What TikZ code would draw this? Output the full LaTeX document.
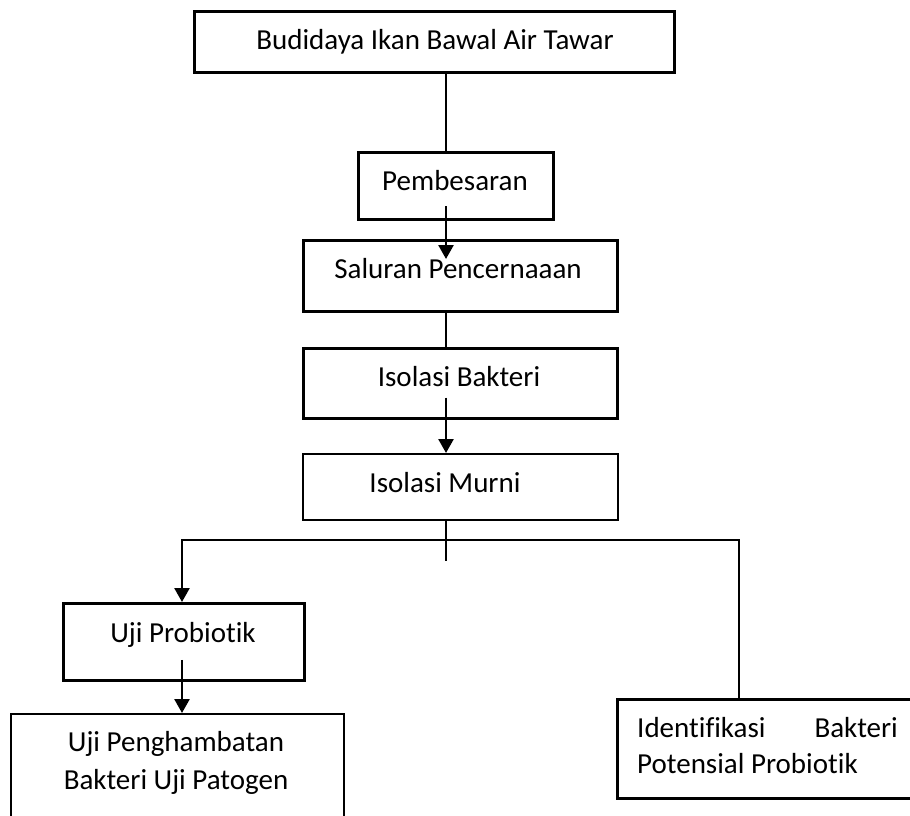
\documentclass[tikz,border=0pt]{standalone}
\usepackage{fontspec}
\setmainfont{Carlito}[Ligatures={NoCommon}]
\usetikzlibrary{arrows.meta,calc}
\begin{document}
\begin{tikzpicture}[x=1pt,y=-1pt,
  box/.style={draw,rectangle,inner sep=0pt,anchor=north west},
  lbl/.style={font=\fontsize{29}{34}\selectfont,inner sep=0pt},
  conn/.style={line width=1.3pt},
  arr/.style={line width=2.6pt,-{Triangle[width=15pt,length=14pt]}}]
\clip (0,0) rectangle (910,816);
\fill[white] (0,0) rectangle (910,816);
% boxes
\node[box,line width=3pt,minimum width=480pt,minimum height=61pt] (bud) at (193,10) {};
\node[box,line width=3pt,minimum width=195pt,minimum height=67pt] (pemb) at (357,151) {};
\node[box,line width=2.7pt,minimum width=314pt,minimum height=71pt] (sal) at (302,239) {};
\node[box,line width=2.7pt,minimum width=314pt,minimum height=70pt] (bak) at (302,347) {};
\node[box,line width=2pt,minimum width=315pt,minimum height=66pt] (murni) at (302,453) {};
\node[box,line width=2.8pt,minimum width=241pt,minimum height=77pt] (prob) at (62,602) {};
\node[box,line width=2pt,minimum width=333pt,minimum height=130pt] (hamb) at (10,713) {};
\node[box,line width=2.7pt,minimum width=330pt,minimum height=99pt] (ident) at (616,698) {};
% texts
\node[lbl,anchor=base] (tbud) at (435,49) {Budidaya Ikan Bawal Air Tawar};
\node[lbl,anchor=base] (tpemb) at (455,190) {Pembesaran};
\node[lbl,anchor=base] (tsal) at (458,278) {Saluran Pencernaaan};
\node[lbl,anchor=base] (tbak) at (459,386) {Isolasi Bakteri};
\node[lbl,anchor=base] (tmurni) at (445,492) {Isolasi Murni};
\node[lbl,anchor=base] (tprob) at (183,642) {Uji Probiotik};
\node[lbl,anchor=base] (thamba) at (176,751) {Uji Penghambatan};
\node[lbl,anchor=base] (thambb) at (176,789) {Bakteri Uji Patogen};
\node[lbl,anchor=base west] (tida) at (637,737) {Identifikasi};
\node[lbl,anchor=base east] (tidb) at (898,737) {Bakteri};
\node[lbl,anchor=base west] (tidc) at (637,773) {Potensial Probiotik};
% connectors
\coordinate (axis) at (446,0);
\coordinate (stub) at (446,561);
\coordinate (hl) at (182,540);
\coordinate (hr) at (739,540);
\draw[conn] (bud.south -| axis) -- (pemb.north -| axis);
\draw[arr] ($(pemb.south -| axis)+(0,-15)$) -- ($(sal.north -| axis)+(0,20)$);
\draw[line width=2.6pt] (sal.south -| axis) -- (bak.north -| axis);
\draw[arr] ($(bak.south -| axis)+(0,-22)$) -- (murni.north -| axis);
\draw[conn] (murni.south -| axis) -- (stub);
\draw[conn] (hl) -- (hr);
\draw[arr] ($(hl)+(0,-0.65)$) -- (prob.north -| hl);
\draw[line width=2pt] ($(hr)+(0,-0.65)$) -- (ident.north -| hr);
\draw[arr] ($(prob.south -| hl)+(0,-22)$) -- (hamb.north -| hl);
\end{tikzpicture}
\end{document}
